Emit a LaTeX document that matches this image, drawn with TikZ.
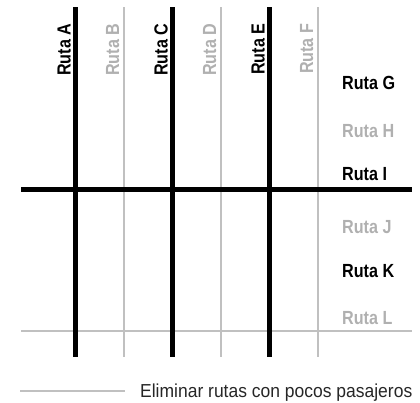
\documentclass[tikz,border=0pt]{standalone}
\usepackage{fontspec}
\setmainfont{Liberation Sans}
\newfontfamily\labfont[FakeStretch=0.85]{Liberation Sans}
\newfontfamily\legfont[FakeStretch=0.93]{Liberation Sans}
\definecolor{routegray}{RGB}{176,176,176}
\definecolor{linegray}{RGB}{192,192,192}
\tikzset{
  thickroute/.style={line width=5.4pt, black},
  thinroute/.style={line width=1.3pt, linegray},
  rlabel/.style={inner sep=0pt, font=\labfont\bfseries\fontsize{19}{21}\selectfont},
  vlabel/.style={rlabel, rotate=90, anchor=base east},
  hlabel/.style={rlabel, anchor=base west},
  onroute/.style={text=black},
  offroute/.style={text=routegray},
  legendtext/.style={inner sep=0pt, anchor=base west, font=\legfont\fontsize{18.8}{20}\selectfont, text=black!85}
}
\begin{document}
\begin{tikzpicture}[x=1pt,y=-1pt]
\useasboundingbox (0,0) rectangle (420,402);
% end points of the routes
\foreach \n/\x in {A/75.5,B/124,C/172.5,D/221,E/269.5,F/318}{
  \coordinate (\n top) at (\x,7);
  \coordinate (\n bot) at (\x,357);
}
\coordinate (Ileft) at (21,189.5);
\coordinate (Iright) at (412,189.5);
\coordinate (Lleft) at (21,331);
\coordinate (Lright) at (412,331);
\coordinate (legA) at (20,391);
\coordinate (legB) at (125,391);
% thin (removed) routes
\draw[thinroute] (Lleft) -- (Lright);
\draw[thinroute] (Btop) -- (Bbot);
\draw[thinroute] (Dtop) -- (Dbot);
\draw[thinroute] (Ftop) -- (Fbot);
% thick routes
\draw[thickroute] (Atop) -- (Abot);
\draw[thickroute] (Ctop) -- (Cbot);
\draw[thickroute] (Etop) -- (Ebot);
\draw[thickroute] (Ileft) -- (Iright);
% vertical labels
\node[vlabel,onroute]  (la) at (70.5,23.5) {Ruta A};
\node[vlabel,offroute] (lb) at (119,23.5) {Ruta B};
\node[vlabel,onroute]  (lc) at (167.5,23.5) {Ruta C};
\node[vlabel,offroute] (ld) at (216,23.5) {Ruta D};
\node[vlabel,onroute]  (le) at (264.5,23.5) {Ruta E};
\node[vlabel,offroute] (lf) at (313,23.5) {Ruta F};
% horizontal labels
\node[hlabel,onroute]  (lg) at (342,89) {Ruta G};
\node[hlabel,offroute] (lh) at (342,137) {Ruta H};
\node[hlabel,onroute]  (li) at (342,180.5) {Ruta I};
\node[hlabel,offroute] (lj) at (342,233.5) {Ruta J};
\node[hlabel,onroute]  (lk) at (342,277) {Ruta K};
\node[hlabel,offroute] (ll) at (342,324) {Ruta L};
% legend
\draw[thinroute, line width=1.1pt] (legA) -- (legB);
\node[legendtext] (leg) at (140,397) {Eliminar rutas con pocos pasajeros};
\end{tikzpicture}
\end{document}
